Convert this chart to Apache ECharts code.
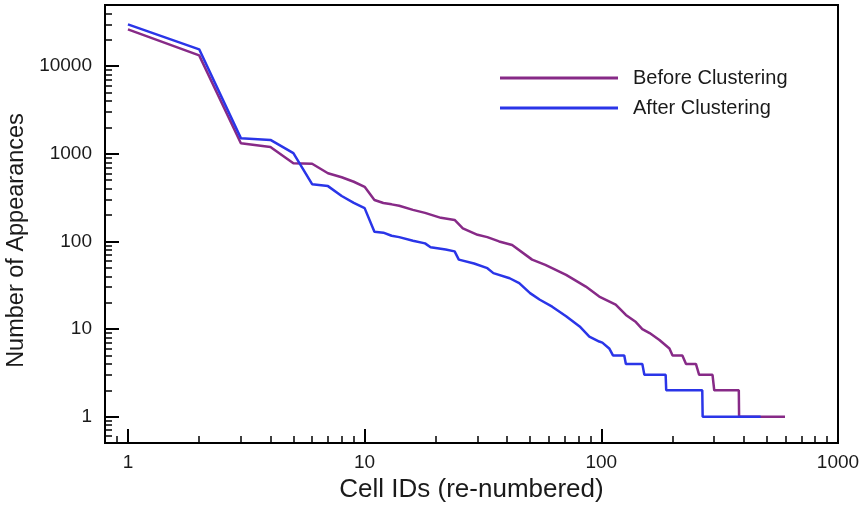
<!DOCTYPE html>
<html lang="en">
<head>
<meta charset="UTF-8">
<title>Cell IDs vs Number of Appearances</title>
<script src="https://cdn.jsdelivr.net/npm/echarts@6/dist/echarts.min.js"></script>
<style>
  html, body { margin: 0; padding: 0; background: #fff; }
  #main { width: 865px; height: 512px; }
</style>
</head>
<body>
<div id="main"></div>
<script type="text/javascript">
// rank (x) and number of appearances (y)
var beforeRank  = [1, 2, 3, 4, 5, 6, 7, 8, 9, 10, 11, 12, 13, 14, 16, 18, 21, 24, 26, 30, 33, 37, 42, 51, 58, 71, 86, 98, 115, 127, 140, 149, 160, 176, 194, 200, 220, 228, 251, 259, 295, 300, 381, 382, 597];
var beforeCount = [26300, 13300, 1320, 1200, 780, 770, 600, 540, 480, 420, 297, 275, 265, 255, 229, 212, 186, 176, 141, 119, 112, 100, 91, 62, 54, 41.5, 30.5, 23.5, 19, 14.5, 12, 10, 9, 7.5, 6, 5, 5, 4, 4, 3, 3, 2, 2, 1, 1];

var afterRank  = [1, 2, 3, 4, 5, 6, 7, 8, 9, 10, 11, 12, 13, 14, 16, 18, 19, 22, 24, 25, 29, 33, 35, 41, 45, 50, 55, 62, 71, 81, 89, 98, 101, 108, 112, 125, 127, 149, 152, 187, 188, 267, 268, 471];
var afterCount = [30100, 15600, 1510, 1440, 1020, 450, 428, 330, 275, 240, 129, 126, 116, 112, 102, 95, 86, 81, 77, 62, 56, 49.5, 43.5, 38, 33.4, 25.7, 21.6, 18, 14, 10.7, 8.2, 7.2, 7, 6, 5, 5, 4, 4, 3, 3, 2, 2, 1, 1];

var seriesNames = ['Before Clustering', 'After Clustering'];

// tick labels and tick marks
var xMajor = [1, 10, 100, 1000];
var xMinor = [0.9, 2, 3, 4, 5, 6, 7, 8, 9, 20, 30, 40, 50, 60, 70, 80, 90, 200, 300, 400, 500, 600, 700, 800, 900];
var yMajor = [1, 10, 100, 1000, 10000];
var yMinor = [0.6, 0.7, 0.8, 0.9, 2, 3, 4, 5, 6, 7, 8, 9, 20, 30, 40, 50, 60, 70, 80, 90,
              200, 300, 400, 500, 600, 700, 800, 900, 2000, 3000, 4000, 5000, 6000, 7000, 8000, 9000,
              20000, 30000, 40000];

function pairs(xs, ys) {
    return xs.map(function (x, i) { return [x, ys[i]]; });
}

function plain(v) {
    return String(v);
}

var gridBox = { left: 105, right: 27, top: 5, bottom: 69 };
var gridW = 865 - gridBox.left - gridBox.right;
var gridH = 512 - gridBox.top - gridBox.bottom;
var font = 'Liberation Sans, Arial, Helvetica, sans-serif';

var myChart = echarts.init(document.getElementById('main'));
var option = {
    animation: false,
    backgroundColor: '#fff',
    grid: {
        left: gridBox.left, right: gridBox.right, top: gridBox.top, bottom: gridBox.bottom,
        outerBoundsMode: 'none',
        containLabel: false,
        show: true, borderColor: '#000', borderWidth: 2, backgroundColor: 'transparent'
    },
    legend: {
        data: seriesNames,
        orient: 'vertical',
        left: 500,
        top: 68,
        padding: 0,
        icon: 'rect',
        itemWidth: 118,
        itemHeight: 3,
        itemGap: 10,
        textStyle: { fontFamily: font, fontSize: 20, color: '#1a1a1a', padding: [0, 0, 0, 10] }
    },
    xAxis: [{
        type: 'log', logBase: 10, min: 0.8, max: 1000,
        position: 'bottom',
        name: 'Cell IDs (re-numbered)',
        nameLocation: 'middle',
        nameGap: 34,
        nameTextStyle: { fontFamily: font, fontSize: 26, color: '#1a1a1a' },
        axisLine: { lineStyle: { color: '#000', width: 2 } },
        axisTick: { inside: true, length: 14, customValues: xMajor, lineStyle: { color: '#000', width: 2 } },
        axisLabel: { customValues: xMajor, formatter: plain, margin: 10, fontFamily: font, fontSize: 19, color: '#1a1a1a' },
        splitLine: { show: false }
    }, {
        // minor ticks only, moved down onto the bottom edge
        type: 'log', logBase: 10, min: 0.8, max: 1000,
        position: 'top',
        offset: -gridH,
        axisLine: { show: false },
        axisTick: { inside: false, length: 7, customValues: xMinor, lineStyle: { color: '#000', width: 1.5 } },
        axisLabel: { show: false },
        splitLine: { show: false }
    }],
    yAxis: [{
        type: 'log', logBase: 10, min: 0.5, max: 50000,
        position: 'left',
        name: 'Number of Appearances',
        nameLocation: 'middle',
        nameGap: 68,
        nameTextStyle: { fontFamily: font, fontSize: 23.5, color: '#1a1a1a', padding: [0, 33, 0, 0] },
        axisLine: { lineStyle: { color: '#000', width: 2 } },
        axisTick: { inside: true, length: 14, customValues: yMajor, lineStyle: { color: '#000', width: 2 } },
        axisLabel: { customValues: yMajor, formatter: plain, margin: 13, fontFamily: font, fontSize: 19, color: '#1a1a1a' },
        splitLine: { show: false }
    }, {
        // minor ticks only, moved left onto the left edge
        type: 'log', logBase: 10, min: 0.5, max: 50000,
        position: 'right',
        offset: -gridW,
        axisLine: { show: false },
        axisTick: { inside: false, length: 7, customValues: yMinor, lineStyle: { color: '#000', width: 1.5 } },
        axisLabel: { show: false },
        splitLine: { show: false }
    }],
    series: [{
        name: seriesNames[0],
        type: 'line',
        xAxisIndex: 0, yAxisIndex: 0,
        symbol: 'none',
        color: '#872a87',
        lineStyle: { width: 2.5, color: '#872a87' },
        data: pairs(beforeRank, beforeCount)
    }, {
        name: seriesNames[1],
        type: 'line',
        xAxisIndex: 0, yAxisIndex: 0,
        symbol: 'none',
        color: '#2a35e8',
        lineStyle: { width: 2.5, color: '#2a35e8' },
        data: pairs(afterRank, afterCount)
    }]
};
myChart.setOption(option);
</script>
</body>
</html>
